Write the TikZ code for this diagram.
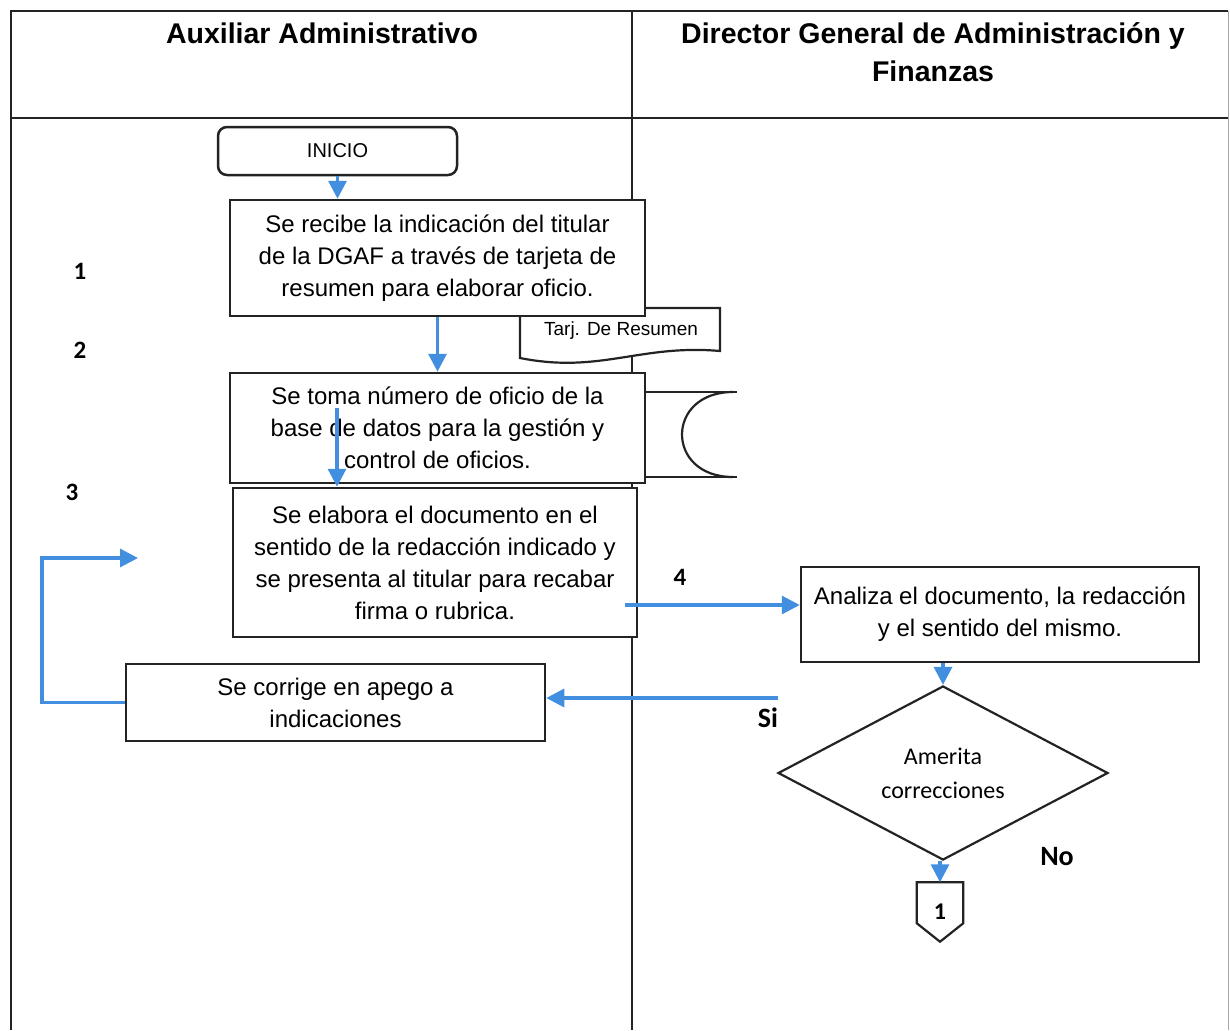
\documentclass[tikz,border=0pt]{standalone}
\usepackage{fontspec}
\setmainfont{Liberation Sans}
\newfontfamily\calibri{Carlito}
\usetikzlibrary{shapes.geometric,arrows.meta}
\definecolor{flowblue}{RGB}{66,143,224}
\definecolor{inkline}{RGB}{35,35,35}
\begin{document}
\begin{tikzpicture}[x=1pt,y=-1pt,
  grid/.style={draw=inkline, line width=1.4pt},
  box/.style={draw=inkline, line width=2.5pt, fill=white, inner sep=0pt,
    align=center, font=\fontsize{24}{32}\selectfont},
  arr/.style={draw=flowblue, line width=3.2pt,
    -{Triangle[length=18pt 0 0,width=18pt 0 0]}},
  head/.style={align=center, font=\fontsize{28.5}{38}\selectfont\bfseries},
  steplabel/.style={font=\calibri\bfseries\fontsize{25}{30}\selectfont},
  branchlabel/.style={font=\calibri\bfseries\fontsize{28}{32}\selectfont}]
\useasboundingbox (0,0) rectangle (1230,1030);

% swimlane table
\draw[grid] (11,1030) -- (11,11) -- (1228,11);
\draw[grid] (11,118) -- (1228,118);
\draw[grid] (632,11) -- (632,1030);
\draw[draw=black!35, line width=0.8pt] (1228,11) -- (1228,1030);

\node[head] (laneA) at (322,33) {Auxiliar Administrativo};
\node[head] (laneB) at (933,52) {Director General de Administración y\\Finanzas};

% document symbol (summary card), partly hidden behind step 1
\draw[draw=inkline, line width=2.2pt, fill=white]
  (520,308) -- (720,308) -- (720,351)
  .. controls (640,344) and (600,374) .. (520,358) -- cycle;
\node[font=\fontsize{19}{22}\selectfont] (card) at (621,331) {Tarj. De Resumen};

% stored-data symbol beside step 2
\draw[draw=inkline, line width=2.2pt] (645,392) -- (737,392);
\draw[draw=inkline, line width=2.2pt] (645,477) -- (737,477);
\draw[draw=inkline, line width=2.2pt]
  (733,392) .. controls (665,392) and (665,477) .. (733,477);

% steps
\node[box, rounded corners=9pt, minimum width=239pt, minimum height=48pt,
  font=\fontsize{20}{22}\selectfont] (start) at (337.5,151) {INICIO};
\node[box, minimum width=415pt, minimum height=116pt] (s1) at (437.5,258)
  {Se recibe la indicación del titular\\de la DGAF a través de tarjeta de\\resumen para elaborar oficio.};
\node[box, minimum width=415pt, minimum height=110pt] (s2) at (437.5,428)
  {Se toma número de oficio de la\\base de datos para la gestión y\\control de oficios.};
\node[box, minimum width=404pt, minimum height=149pt] (s3) at (435,562.5)
  {Se elabora el documento en el\\sentido de la redacción indicado y\\se presenta al titular para recabar\\firma o rubrica.};
\node[box, minimum width=419pt, minimum height=77pt] (fix) at (335.5,702.5)
  {Se corrige en apego a\\indicaciones};
\node[box, minimum width=398pt, minimum height=95pt] (review) at (1000,614.5)
  {Analiza el documento, la redacción\\y el sentido del mismo.};
\node[diamond, draw=inkline, line width=2.2pt, inner sep=0pt, align=center,
  minimum width=330pt, minimum height=170pt,
  font=\calibri\fontsize{24}{34}\selectfont] (dec) at (943,773)
  {Amerita\\correcciones};

% off-page connector
\node[inner sep=0pt, minimum width=46pt, minimum height=59pt,
  font=\calibri\bfseries\fontsize{24}{28}\selectfont] (conn) at (940,912) {1};
\draw[draw=inkline, line width=2.2pt, line join=miter]
  (conn.north west) -- (conn.north east) -- ([yshift=-41pt]conn.north east)
  -- (conn.south) -- ([yshift=-41pt]conn.north west) -- cycle;

% step numbers and branch labels
\node[steplabel] (n1) at (80,271) {1};
\node[steplabel] (n2) at (80,350) {2};
\node[steplabel] (n3) at (72,492) {3};
\node[steplabel] (n4) at (680,577) {4};
\node[branchlabel] (yes) at (768,718) {Si};
\node[branchlabel] (no) at (1057,857) {No};

% connectors
\coordinate (fromS2) at (337,408);
\coordinate (fromS3) at (625,605);
\coordinate (fromYes) at (778,698);
\coordinate (loopTop) at (42,558);
\coordinate (loopEnd) at (138,558);

\draw[arr] (start.south) -- (start.south |- s1.north);
\draw[arr] (s1.south) -- (s2.north);
\draw[arr] (fromS2) -- (fromS2 |- s3.north);
\draw[arr] (fromS3) -- (fromS3 -| review.west);
\draw[arr] (dec.north |- review.south) -- (dec.north);
\draw[arr] (fromYes) -- (fromYes -| fix.east);
\draw[arr] (fix.west) -| (loopTop) -- (loopEnd);
\draw[arr] (conn.north |- dec.south) -- (conn.north);
\end{tikzpicture}
\end{document}
